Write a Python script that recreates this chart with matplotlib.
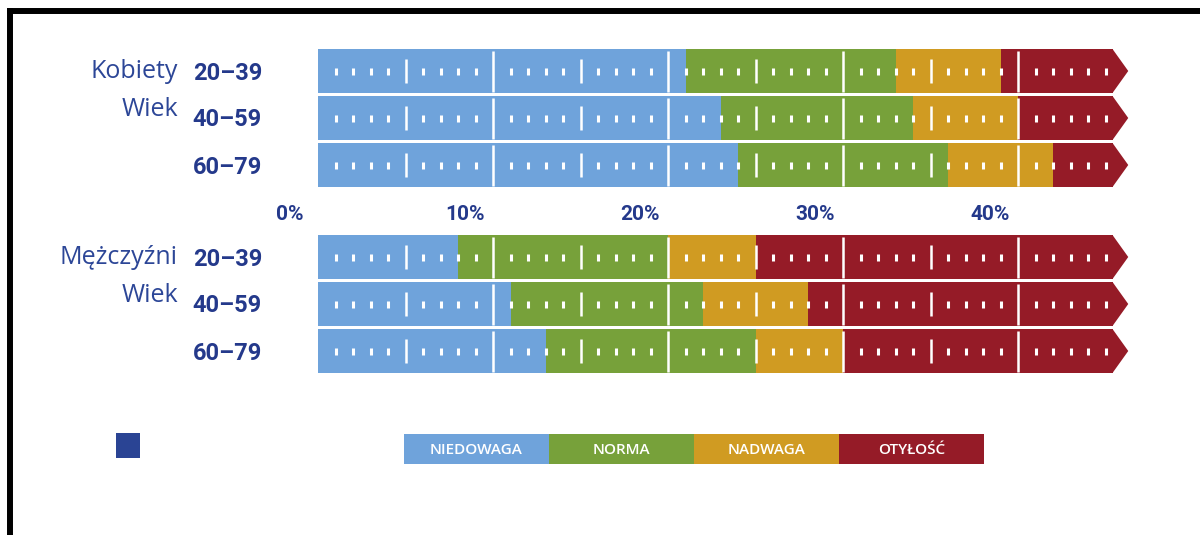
import matplotlib
matplotlib.use("Agg")
import matplotlib.pyplot as plt
from matplotlib.patches import Polygon, Rectangle
from matplotlib.lines import Line2D

# data (percent widths of each segment)
GROUPS = ["Kobiety", "Mężczyźni"]
AGES = ["20–39", "40–59", "60–79"]
NIEDOWAGA = [21, 23, 24, 8, 11, 13]
NORMA = [12, 11, 12, 12, 11, 12]
NADWAGA = [6, 6, 6, 5, 6, 5]
OTYLOSC = [6.4, 5.4, 3.4, 20.4, 17.4, 15.4]
CATEGORIES = ["NIEDOWAGA", "NORMA", "NADWAGA", "OTYŁOŚĆ"]
XTICKS = [0, 10, 20, 30, 40]

COLORS = ["#6fa3db", "#77a13a", "#d09b22", "#951b27"]
NAVY = "#24398b"
TEXT_BLUE = "#2c4697"
NARROW = ["Roboto", "DejaVu Sans"]
ROUND = ["Open Sans", "DejaVu Sans"]

W, H = 1200, 535
PX_PER_PCT = 17.5
X0_PX = 318

fig = plt.figure(figsize=(W / 100, H / 100), dpi=100)
ax = fig.add_axes([0, 0, 1, 1])
ax.set_xlim(-X0_PX / PX_PER_PCT, (W - X0_PX) / PX_PER_PCT)
ax.set_ylim(H, 0)
ax.axis("off")

bar_h = 44
pitch = 47
group_top = [49, 235]
centers = [group_top[g] + bar_h / 2 + i * pitch for g in range(2) for i in range(3)]

series = [NIEDOWAGA, NORMA, NADWAGA, OTYLOSC]
left = [0.0] * 6
for vals, color in zip(series, COLORS):
    ax.barh(centers, vals, left=left, height=bar_h, color=color, linewidth=0)
    left = [l + v for l, v in zip(left, vals)]

# arrow tips
for c, end in zip(centers, left):
    ax.add_patch(Polygon([(end, c - bar_h / 2), (end + 0.9, c), (end, c + bar_h / 2)],
                         closed=True, color=COLORS[3], linewidth=0))

# white scale marks inside bars
for c, end in zip(centers, left):
    for v in range(1, int(end) + 1):
        if v % 10 == 0:
            ax.vlines(v, c - bar_h / 2 + 1.5, c + bar_h / 2 - 1.5, color="white", linewidth=1.8)
        elif v % 5 == 0 and v < 45:
            ax.vlines(v, c - 12, c + 12, color="white", linewidth=1.8)
        else:
            ax.vlines(v, c - 3.5, c + 3.5, color="white", linewidth=2.2)

# x labels between the two groups
for t in XTICKS:
    ax.text(t - 1.6, 214, f"{t}%", ha="center", va="center", fontsize=15,
            fontweight="bold", color=NAVY, family=NARROW)

# age labels
age_x = (262 - X0_PX) / PX_PER_PCT
for c, age in zip(centers, AGES * 2):
    ax.text(age_x, c + 2, age, ha="right", va="center",
            fontsize=17, fontweight="bold", color=NAVY, family=NARROW)

label_x = (178 - X0_PX) / PX_PER_PCT
for g, name in enumerate(GROUPS):
    c = centers[g * 3]
    ax.text(label_x, c, name, ha="right", va="center", fontsize=18,
            color=TEXT_BLUE, family=ROUND)
    ax.text(label_x, c + 38, "Wiek", ha="right", va="center", fontsize=18,
            color=TEXT_BLUE, family=ROUND)

# legend
box_w = 145 / PX_PER_PCT
lx = (404 - X0_PX) / PX_PER_PCT
for i, (cat, color) in enumerate(zip(CATEGORIES, COLORS)):
    x = lx + i * box_w
    ax.add_patch(Rectangle((x, 434), box_w, 30, color=color, linewidth=0))
    ax.text(x + box_w / 2, 450, cat, ha="center", va="center", fontsize=11,
            fontweight="semibold", color="white", family=ROUND)
ax.add_patch(Rectangle(((116 - X0_PX) / PX_PER_PCT, 433), 24 / PX_PER_PCT, 25,
                       color="#2a4494", linewidth=0))

# frame
fig.add_artist(Line2D([7 / W, 1], [1 - 11 / H, 1 - 11 / H], color="black",
                      linewidth=4.3, solid_capstyle="butt"))
fig.add_artist(Line2D([10 / W, 10 / W], [0, 1 - 8 / H], color="black",
                      linewidth=4.3, solid_capstyle="butt"))

fig.savefig("out.png", dpi=100)
